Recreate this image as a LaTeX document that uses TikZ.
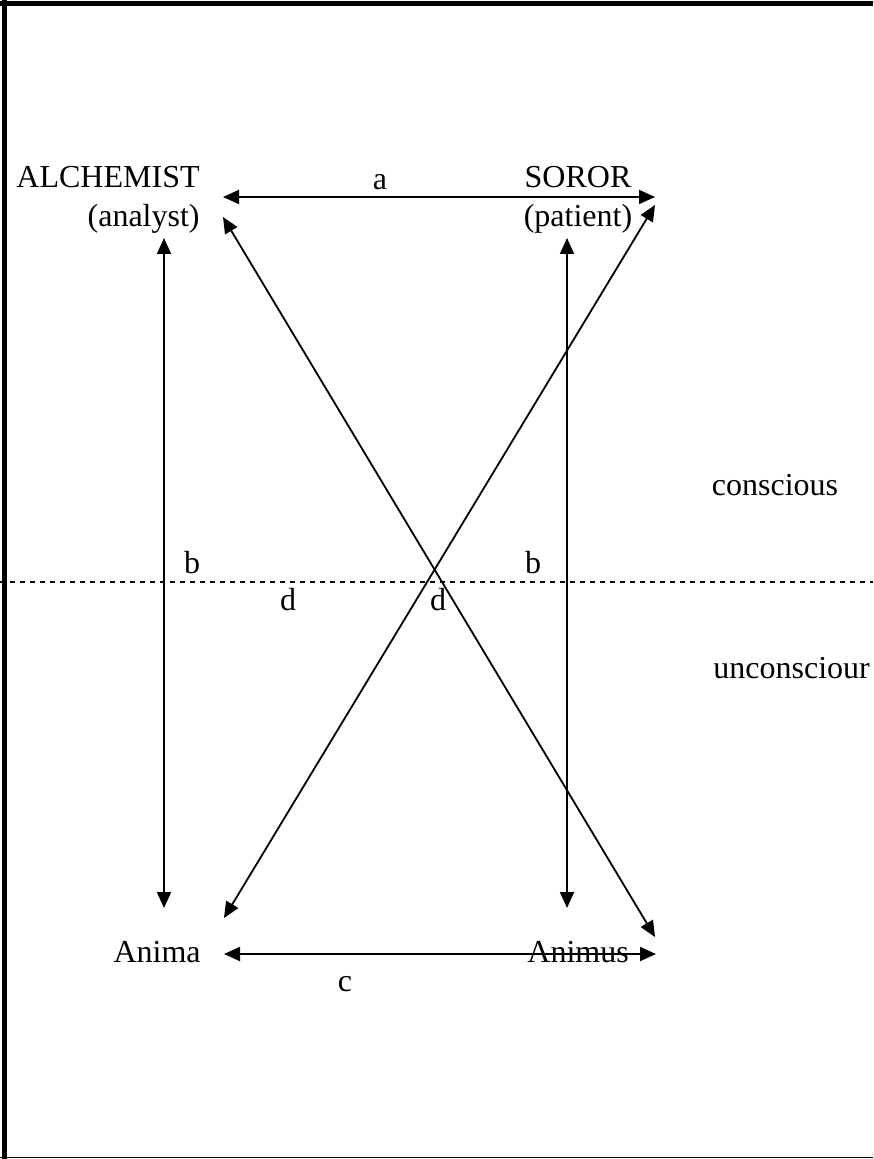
\documentclass[tikz,border=0pt]{standalone}
\usepackage{fontspec}
\setmainfont{Liberation Serif}
\usetikzlibrary{arrows.meta}
\tikzset{
  lbl/.style={inner sep=0pt, font=\fontsize{16}{19}\selectfont},
  link/.style={line width=0.9pt, {Triangle[length=8pt,width=7pt]}-{Triangle[length=8pt,width=7pt]}},
}
\begin{document}
\begin{tikzpicture}[x=0.5pt,y=-0.5pt]
  \useasboundingbox (0,0) rectangle (873,1159);
  % frame
  \draw[line width=2.5pt] (0,3.5) -- (873,3.5);
  \draw[line width=2.5pt] (4,0) -- (4,1159);
  \draw[line width=0.75pt] (0,1157.5) -- (873,1157.5);
  % conscious / unconscious divide
  \draw[line width=0.9pt, dash pattern=on 2.5pt off 2.5pt] (0,582) -- (873,582);
  % persons
  \node[lbl, anchor=base east] (alch) at (200,188) {ALCHEMIST};
  \node[lbl, anchor=base east] (analyst) at (200,227) {(analyst)};
  \node[lbl, anchor=base] (soror) at (578,188) {SOROR};
  \node[lbl, anchor=base] (patient) at (578,227) {(patient)};
  \node[lbl, anchor=base east] (anima) at (201,962) {Anima};
  \node[lbl, anchor=base west] (animus) at (527,962) {Animus};
  % levels
  \node[lbl, anchor=base] (consc) at (775,495) {conscious};
  \node[lbl, anchor=base west] (unconsc) at (713,678) {unconsciour};
  % relation letters
  \foreach \x/\y/\t/\n in {380/190/a/la, 192/573/b/lbL, 533/573/b/lbR,
                          288/610/d/ldL, 438/610/d/ldR, 345/991/c/lc} {
    \node[lbl, anchor=base] (\n) at (\x,\y) {\t};
  }
  % arrow ends
  \coordinate (aL) at (223,197);  \coordinate (aR) at (655,197);
  \coordinate (bL1) at (164,238); \coordinate (bL2) at (164,908);
  \coordinate (bR1) at (567,238); \coordinate (bR2) at (567,908);
  \coordinate (dA1) at (223,217); \coordinate (dA2) at (655,937);
  \coordinate (dB1) at (655,205); \coordinate (dB2) at (224,918);
  \coordinate (cL) at (224,954);  \coordinate (cR) at (656,954);
  % relations
  \draw[link] (aL) -- (aR);
  \draw[link] (bL1) -- (bL2);
  \draw[link] (bR1) -- (bR2);
  \draw[link] (dA1) -- (dA2);
  \draw[link] (dB1) -- (dB2);
  \draw[link] (cL) -- (cR);
\end{tikzpicture}
\end{document}
